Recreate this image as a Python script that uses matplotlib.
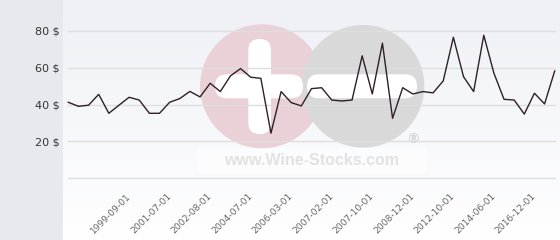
import numpy as np
import matplotlib
matplotlib.use("Agg")
import matplotlib.pyplot as plt
import matplotlib.transforms as mtransforms
from matplotlib.patches import Circle, FancyBboxPatch, Rectangle

# ---- data ----
prices = [41.3, 39.1, 39.7, 45.6, 35.3, 39.7, 44.0, 42.5, 35.3, 35.3,
          41.3, 43.3, 47.2, 44.2, 51.6, 47.1, 55.6, 59.6, 54.9, 54.3,
          24.5, 47.1, 41.1, 39.3, 48.7, 49.2, 42.5, 42.0, 42.5, 66.5,
          45.8, 73.4, 32.6, 49.2, 45.8, 47.1, 46.4, 52.9, 76.6, 55.2,
          47.1, 77.7, 57.1, 42.9, 42.5, 34.9, 46.2, 40.4, 58.3]
date_labels = ["1999-09-01", "2001-07-01", "2002-08-01", "2004-07-01",
               "2006-03-01", "2007-02-01", "2007-10-01", "2008-12-01",
               "2012-10-01", "2014-06-01", "2016-12-01"]
y_ticks = [0, 20, 40, 60, 80]
y_tick_labels = ["", "20 $", "40 $", "60 $", "80 $"]

W, H = 560, 240
fig = plt.figure(figsize=(W / 100, H / 100), dpi=100)
fig.patch.set_facecolor("white")

# ---- background + watermark (pixel coordinates) ----
bg = fig.add_axes([0, 0, 1, 1], zorder=0)
bg.set_xlim(0, W)
bg.set_ylim(H, 0)
bg.axis("off")
top = np.array([0xee, 0xf0, 0xf6]) / 255.0
bot = np.array([1.0, 1.0, 1.0])
t = np.linspace(0, 1, 200)[:, None]
grad = (top * (1 - t) + bot * t)[:, None, :]
bg.imshow(grad, extent=[63, W, H, 0], aspect="auto", interpolation="bilinear", zorder=0)
bg.add_patch(Rectangle((0, 0), 63, H, facecolor="#e6eaee", edgecolor="none", zorder=1))

bg.add_patch(Rectangle((197, 148), 230, 25, facecolor="white", edgecolor="none", alpha=0.5, zorder=1))
bg.add_patch(Circle((262, 86.3), 62, facecolor="#ead0d7", edgecolor="none", zorder=2))
bg.add_patch(Circle((363, 86.3), 61.3, facecolor="#d9d9d9", edgecolor="none", zorder=3))
bg.add_patch(FancyBboxPatch((248.3 + 11, 39 + 11), 22.7 - 22, 95 - 22,
                            boxstyle="round,pad=11", facecolor="white", edgecolor="none", zorder=4))
bg.add_patch(FancyBboxPatch((215 + 12, 74.3 + 12), 88 - 24, 24 - 24,
                            boxstyle="round,pad=12", facecolor="white", edgecolor="none", zorder=4))
bg.add_patch(FancyBboxPatch((307 + 12, 74.3 + 12), 110 - 24, 24 - 24,
                            boxstyle="round,pad=12", facecolor="white", edgecolor="none", zorder=4))
bg.text(413, 139, "®", fontsize=10, color="#d2d2d2", ha="center", va="center",
        family="DejaVu Sans", fontweight="bold", zorder=5)
bg.text(312, 160.5, "www.Wine-Stocks.com", fontsize=11.5, color="#e2e2e2", ha="center",
        va="center", family="Liberation Sans", fontweight="bold", zorder=5)

# ---- main chart ----
x0, x1 = 68.3, 554.7
y_top, y_bot = 31.0, 178.3
ax = fig.add_axes([x0 / W, (H - y_bot) / H, (x1 - x0) / W, (y_bot - y_top) / H], zorder=1)
ax.patch.set_alpha(0)
xs = np.arange(len(prices))
ax.plot(xs, prices, color="#2e1f28", lw=1.0, clip_on=False, zorder=3)
ax.set_xlim(0, len(prices) - 1)
ax.set_ylim(0, 80)
ax.set_yticks(y_ticks)
ax.set_yticklabels(y_tick_labels, fontsize=8, color="#333333")
tick_pos = np.arange(6, 6 + 4 * len(date_labels), 4)
ax.set_xticks(tick_pos)
ax.set_xticklabels(date_labels, rotation=45, ha="right", va="center",
                   rotation_mode="anchor", fontsize=6.6, color="#666666")
shift = mtransforms.ScaledTranslation(-3 / 100, 0, fig.dpi_scale_trans)
for lab in ax.get_xticklabels():
    lab.set_transform(lab.get_transform() + shift)
ax.tick_params(axis="both", length=0)
ax.tick_params(axis="y", pad=6)
ax.tick_params(axis="x", pad=12)
for s in ax.spines.values():
    s.set_visible(False)
ax.grid(axis="y", color="#dedede", lw=1.0, zorder=1)
ax.grid(axis="x", visible=False)
for gl in ax.get_ygridlines():
    gl.set_clip_on(False)
ax.set_axisbelow(True)

fig.savefig("out.png", dpi=100, facecolor="white")
